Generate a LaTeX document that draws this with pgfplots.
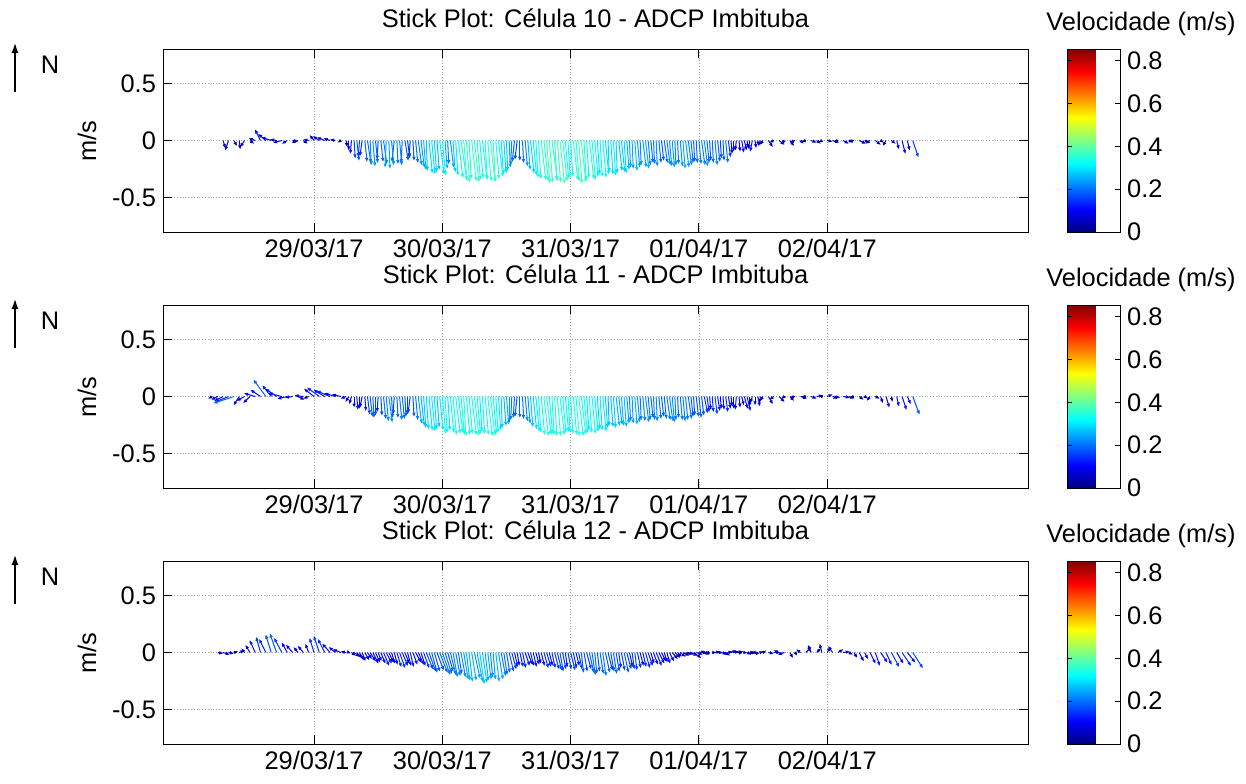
\documentclass[border=0pt]{standalone}
\usepackage{fontspec}
\setmainfont{Liberation Sans}
\usepackage{pgfplots}
\pgfplotsset{compat=1.18}
\usepackage{pgfplotstable}
\usetikzlibrary{arrows.meta}
\newcommand\fs{\fontsize{12.7}{15}\selectfont}

% hour (0 = 28/03/17 00:00), u (east, m/s), v (north, m/s)
\pgfplotstableread{
h u v
7 0.02 -0.07
8 -0.03 -0.09
9 0.03 -0.05
10 0.01 -0.08
11 -0.04 -0.06
12 0.04 -0.03
13 -0.06 0.02
14 -0.05 0.10
15 -0.07 0.06
16 -0.09 0.03
17 -0.06 0.01
18 -0.08 -0.02
19 -0.05 -0.03
20 0.05 -0.01
21 -0.06 -0.02
22 0.04 -0.03
23 -0.05 0.01
24 -0.04 0.05
25 -0.06 0.04
26 -0.07 0.03
27 -0.06 0.02
28 -0.05 0.01
29 -0.03 -0.02
30 0.01 -0.06
31 -0.01 -0.12
32 0.02 -0.18
33 -0.02 -0.14
34 0.03 -0.20
35 0.02 -0.23
36 -0.01 -0.17
37 0.03 -0.21
38 0.01 -0.25
39 -0.02 -0.19
40 0.02 -0.22
41 0.03 -0.18
42 -0.01 -0.15
43 0.02 -0.20
44 0.03 -0.24
45 0.01 -0.27
46 0.03 -0.30
47 0.02 -0.26
48 0.03 -0.31
49 0.01 -0.21
50 0.02 -0.28
51 0.04 -0.33
52 0.03 -0.36
53 0.02 -0.34
54 0.04 -0.37
55 0.03 -0.33
56 0.02 -0.35
57 0.04 -0.37
58 0.03 -0.34
59 0.02 -0.30
60 0.01 -0.27
61 -0.01 -0.22
62 -0.02 -0.17
63 0.01 -0.20
64 0.02 -0.26
65 0.03 -0.31
66 0.02 -0.34
67 0.04 -0.36
68 0.03 -0.37
69 0.02 -0.35
70 0.04 -0.38
71 0.03 -0.34
72 0.02 -0.32
73 0.03 -0.36
74 0.04 -0.37
75 0.02 -0.33
76 0.03 -0.35
77 0.02 -0.30
78 0.03 -0.33
79 0.01 -0.28
80 0.02 -0.31
81 0.03 -0.27
82 0.02 -0.29
83 0.01 -0.24
84 0.02 -0.27
85 0.01 -0.22
86 0.03 -0.25
87 0.02 -0.20
88 0.01 -0.23
89 0.02 -0.18
90 0.03 -0.22
91 0.02 -0.24
92 0.01 -0.21
93 0.02 -0.25
94 0.03 -0.22
95 0.01 -0.19
96 0.02 -0.21
97 0.03 -0.23
98 0.01 -0.18
99 0.02 -0.22
100 0.01 -0.16
101 0.02 -0.20
102 0.01 -0.12
103 -0.01 -0.09
104 0.02 -0.11
105 0.01 -0.07
106 -0.02 -0.10
107 0.01 -0.05
108 -0.03 -0.04
109 0.04 -0.06
110 -0.04 -0.02
111 0.05 -0.04
112 -0.03 -0.03
113 0.04 -0.05
114 -0.05 -0.02
115 0.03 -0.03
116 -0.04 -0.01
117 0.05 -0.02
118 0.04 -0.03
119 -0.03 -0.02
120 0.05 -0.01
121 0.06 -0.02
122 -0.04 -0.01
123 0.05 -0.03
124 0.04 -0.02
125 -0.05 -0.01
126 0.06 -0.03
127 0.04 -0.02
128 -0.04 -0.03
129 0.05 -0.04
130 0.03 -0.02
131 -0.03 -0.05
132 0.04 -0.03
133 0.02 -0.08
134 0.03 -0.12
135 0.02 -0.09
136 0.05 -0.15
30.5 0.00 -0.09
31.5 0.01 -0.16
32.5 -0.01 -0.15
33.5 0.02 -0.19
34.5 0.01 -0.22
35.5 0.02 -0.20
36.5 0.02 -0.19
37.5 -0.01 -0.24
38.5 0.02 -0.22
39.5 0.01 -0.21
40.5 -0.01 -0.20
41.5 0.02 -0.16
42.5 0.01 -0.18
43.5 0.03 -0.22
44.5 0.02 -0.26
45.5 0.03 -0.29
46.5 0.02 -0.28
47.5 0.04 -0.30
48.5 0.02 -0.25
49.5 0.03 -0.24
50.5 0.02 -0.31
51.5 0.05 -0.35
52.5 0.03 -0.37
53.5 0.04 -0.36
54.5 0.03 -0.35
55.5 0.04 -0.34
56.5 0.03 -0.36
57.5 0.02 -0.36
58.5 0.04 -0.32
59.5 0.02 -0.29
60.5 0.01 -0.24
61.5 -0.02 -0.19
62.5 0.00 -0.18
63.5 0.02 -0.23
64.5 0.03 -0.29
65.5 0.02 -0.33
66.5 0.04 -0.35
67.5 0.03 -0.38
68.5 0.05 -0.36
69.5 0.03 -0.37
70.5 0.04 -0.36
71.5 0.02 -0.33
72.5 0.04 -0.35
73.5 0.03 -0.38
74.5 0.02 -0.35
75.5 0.04 -0.34
76.5 0.03 -0.32
77.5 0.02 -0.32
78.5 0.03 -0.30
79.5 0.02 -0.30
80.5 0.01 -0.29
81.5 0.03 -0.28
82.5 0.02 -0.26
83.5 0.01 -0.25
84.5 0.02 -0.24
85.5 0.03 -0.24
86.5 0.02 -0.22
87.5 0.01 -0.21
88.5 0.02 -0.20
89.5 0.03 -0.20
90.5 0.02 -0.23
91.5 0.01 -0.22
92.5 0.02 -0.23
93.5 0.03 -0.24
94.5 0.02 -0.20
95.5 0.01 -0.20
96.5 0.03 -0.22
97.5 0.02 -0.20
98.5 0.01 -0.20
99.5 0.02 -0.19
100.5 0.01 -0.18
101.5 0.02 -0.15
102.5 0.00 -0.10
103.5 0.01 -0.10
104.5 0.02 -0.09
105.5 -0.01 -0.08
106.5 0.01 -0.07
107.5 -0.02 -0.05
}\dataA

\pgfplotstableread{
h u v
5 -0.04 -0.02
6 -0.06 -0.03
7 -0.08 -0.04
8 -0.12 -0.05
9 -0.18 -0.06
10 -0.05 -0.08
11 -0.07 -0.04
12 -0.06 -0.06
13 -0.10 0.03
14 -0.09 0.06
15 -0.11 0.15
16 -0.08 0.10
17 -0.10 0.07
18 -0.12 0.03
19 -0.09 -0.02
20 -0.07 -0.01
21 0.06 -0.03
22 -0.08 0.01
23 -0.05 -0.02
24 -0.09 0.07
25 -0.11 0.08
26 -0.10 0.06
27 -0.12 0.05
28 -0.10 0.03
29 -0.08 0.02
30 -0.05 -0.02
31 -0.02 -0.07
32 0.01 -0.12
33 -0.02 -0.10
34 0.02 -0.16
35 0.01 -0.19
36 -0.01 -0.14
37 0.02 -0.20
38 0.03 -0.23
39 -0.01 -0.16
40 0.02 -0.21
41 0.01 -0.18
42 -0.02 -0.15
43 0.02 -0.21
44 0.03 -0.26
45 0.02 -0.29
46 0.03 -0.31
47 0.02 -0.27
48 0.03 -0.33
49 0.02 -0.30
50 0.03 -0.34
51 0.04 -0.32
52 0.02 -0.35
53 0.03 -0.33
54 0.04 -0.35
55 0.02 -0.31
56 0.03 -0.34
57 0.04 -0.35
58 0.02 -0.32
59 0.01 -0.28
60 0.02 -0.25
61 -0.01 -0.21
62 -0.02 -0.18
63 0.01 -0.20
64 0.02 -0.24
65 0.03 -0.29
66 0.02 -0.32
67 0.04 -0.35
68 0.03 -0.33
69 0.02 -0.35
70 0.04 -0.34
71 0.03 -0.31
72 0.02 -0.33
73 0.03 -0.35
74 0.04 -0.34
75 0.02 -0.30
76 0.03 -0.33
77 0.02 -0.29
78 0.03 -0.31
79 0.01 -0.26
80 0.02 -0.28
81 0.03 -0.25
82 0.02 -0.27
83 0.01 -0.22
84 0.02 -0.25
85 0.01 -0.21
86 0.03 -0.23
87 0.02 -0.19
88 0.01 -0.22
89 0.02 -0.18
90 0.03 -0.21
91 0.02 -0.23
92 0.01 -0.19
93 0.02 -0.22
94 0.03 -0.20
95 0.01 -0.17
96 0.02 -0.19
97 0.03 -0.15
98 0.01 -0.12
99 0.02 -0.16
100 0.01 -0.11
101 0.02 -0.14
102 0.01 -0.09
103 -0.01 -0.12
104 0.02 -0.08
105 0.03 -0.13
106 -0.02 -0.06
107 0.02 -0.09
108 -0.03 -0.04
109 0.04 -0.07
110 -0.04 -0.03
111 0.05 -0.05
112 -0.03 -0.02
113 0.04 -0.04
114 -0.05 -0.01
115 0.06 -0.02
116 -0.04 0.00
117 0.05 -0.02
118 0.06 0.01
119 -0.03 0.01
120 0.05 0.02
121 0.07 -0.01
122 -0.05 -0.02
123 0.06 -0.01
124 0.05 -0.02
125 -0.04 -0.01
126 0.04 -0.03
127 0.03 -0.02
128 -0.03 -0.04
129 0.04 -0.02
130 0.02 -0.06
131 0.03 -0.10
132 0.01 -0.05
133 0.02 -0.09
134 0.04 -0.12
135 0.03 -0.07
136 0.06 -0.16
30.5 -0.03 -0.05
31.5 0.00 -0.10
32.5 0.00 -0.11
33.5 0.01 -0.13
34.5 0.02 -0.18
35.5 0.00 -0.17
36.5 0.01 -0.17
37.5 0.02 -0.22
38.5 0.01 -0.19
39.5 0.01 -0.19
40.5 0.02 -0.20
41.5 0.00 -0.16
42.5 0.01 -0.18
43.5 0.03 -0.24
44.5 0.02 -0.28
45.5 0.03 -0.30
46.5 0.02 -0.29
47.5 0.03 -0.30
48.5 0.02 -0.32
49.5 0.03 -0.32
50.5 0.04 -0.33
51.5 0.03 -0.34
52.5 0.03 -0.34
53.5 0.04 -0.34
54.5 0.03 -0.33
55.5 0.02 -0.33
56.5 0.04 -0.35
57.5 0.03 -0.33
58.5 0.02 -0.30
59.5 0.02 -0.26
60.5 0.00 -0.23
61.5 -0.01 -0.19
62.5 0.00 -0.19
63.5 0.02 -0.22
64.5 0.02 -0.27
65.5 0.03 -0.31
66.5 0.03 -0.34
67.5 0.04 -0.34
68.5 0.02 -0.34
69.5 0.03 -0.35
70.5 0.03 -0.32
71.5 0.02 -0.32
72.5 0.03 -0.34
73.5 0.04 -0.35
74.5 0.03 -0.32
75.5 0.02 -0.32
76.5 0.03 -0.31
77.5 0.02 -0.30
78.5 0.02 -0.28
79.5 0.02 -0.27
80.5 0.03 -0.26
81.5 0.02 -0.26
82.5 0.02 -0.24
83.5 0.01 -0.24
84.5 0.02 -0.23
85.5 0.02 -0.22
86.5 0.02 -0.21
87.5 0.01 -0.21
88.5 0.02 -0.20
89.5 0.02 -0.20
90.5 0.03 -0.22
91.5 0.01 -0.21
92.5 0.02 -0.21
93.5 0.02 -0.21
94.5 0.02 -0.18
95.5 0.02 -0.18
96.5 0.02 -0.17
97.5 0.02 -0.14
98.5 0.01 -0.14
99.5 0.02 -0.13
100.5 0.01 -0.12
101.5 0.02 -0.11
102.5 0.00 -0.11
103.5 0.01 -0.10
104.5 0.03 -0.11
105.5 0.00 -0.09
106.5 0.00 -0.08
107.5 -0.01 -0.06
}\dataB

\pgfplotstableread{
h u v
6 0.05 -0.01
7 0.06 -0.02
8 0.05 -0.01
9 0.04 0.01
10 0.05 0.02
11 -0.03 0.04
12 -0.04 0.07
13 -0.05 0.11
14 -0.04 0.14
15 -0.06 0.12
16 -0.05 0.16
17 -0.06 0.17
18 -0.07 0.13
19 -0.05 0.09
20 -0.06 0.07
21 -0.04 0.05
22 -0.05 0.06
23 -0.03 0.08
24 -0.04 0.13
25 -0.05 0.15
26 -0.06 0.12
27 -0.07 0.08
28 -0.06 0.05
29 -0.07 0.03
30 -0.05 0.01
31 0.04 -0.03
32 0.05 -0.05
33 0.03 -0.08
34 0.04 -0.06
35 0.05 -0.10
36 0.03 -0.08
37 0.05 -0.12
38 0.04 -0.09
39 0.03 -0.11
40 0.05 -0.14
41 0.04 -0.10
42 0.03 -0.13
43 0.05 -0.09
44 0.04 -0.12
45 0.06 -0.15
46 0.05 -0.18
47 0.06 -0.16
48 0.07 -0.20
49 0.05 -0.17
50 0.04 -0.22
51 0.03 -0.19
52 0.04 -0.24
53 0.03 -0.26
54 0.05 -0.23
55 0.04 -0.28
56 0.03 -0.25
57 0.02 -0.22
58 0.03 -0.26
59 0.04 -0.21
60 0.03 -0.18
61 0.04 -0.15
62 0.02 -0.12
63 0.03 -0.14
64 0.04 -0.11
65 0.03 -0.13
66 0.02 -0.10
67 0.04 -0.14
68 0.03 -0.12
69 0.04 -0.15
70 0.03 -0.17
71 0.02 -0.13
72 0.04 -0.16
73 0.03 -0.12
74 0.02 -0.18
75 0.04 -0.15
76 0.03 -0.20
77 0.02 -0.17
78 0.03 -0.21
79 0.04 -0.16
80 0.03 -0.19
81 0.02 -0.14
82 0.04 -0.18
83 0.03 -0.13
84 0.02 -0.16
85 0.03 -0.12
86 0.04 -0.14
87 0.03 -0.10
88 0.05 -0.12
89 0.04 -0.08
90 0.03 -0.10
91 0.05 -0.06
92 0.04 -0.04
93 0.06 -0.03
94 0.05 -0.02
95 0.07 -0.05
96 0.06 0.01
97 0.05 -0.02
98 -0.04 -0.01
99 0.05 0.01
100 0.06 -0.01
101 0.04 -0.03
102 0.05 0.02
103 0.06 0.01
104 -0.03 0.02
105 0.04 -0.02
106 0.03 0.01
107 -0.02 -0.03
108 0.03 0.02
109 0.05 -0.01
110 0.06 0.00
111 -0.05 0.02
112 -0.06 -0.02
113 0.03 -0.05
114 0.02 -0.03
115 -0.04 0.03
116 0.05 0.05
117 -0.03 0.07
118 0.04 0.04
119 -0.02 0.08
120 0.03 0.05
121 -0.04 0.06
122 0.05 0.03
123 0.06 0.01
124 0.04 -0.02
125 0.03 -0.05
126 0.04 -0.08
127 0.03 -0.06
128 0.05 -0.10
129 0.04 -0.12
130 0.06 -0.09
131 0.05 -0.11
132 0.07 -0.13
133 0.06 -0.10
134 0.08 -0.12
135 0.07 -0.09
136 0.09 -0.14
30.5 0.02 -0.01
31.5 0.05 -0.04
32.5 0.04 -0.07
33.5 0.04 -0.07
34.5 0.05 -0.08
35.5 0.04 -0.09
36.5 0.04 -0.10
37.5 0.05 -0.10
38.5 0.03 -0.10
39.5 0.04 -0.13
40.5 0.05 -0.12
41.5 0.03 -0.12
42.5 0.04 -0.11
43.5 0.05 -0.11
44.5 0.05 -0.14
45.5 0.06 -0.17
46.5 0.05 -0.17
47.5 0.07 -0.18
48.5 0.06 -0.19
49.5 0.05 -0.20
50.5 0.04 -0.21
51.5 0.04 -0.22
52.5 0.03 -0.25
53.5 0.04 -0.25
54.5 0.05 -0.26
55.5 0.04 -0.27
56.5 0.03 -0.24
57.5 0.02 -0.24
58.5 0.04 -0.24
59.5 0.03 -0.20
60.5 0.04 -0.17
61.5 0.03 -0.13
62.5 0.03 -0.13
63.5 0.04 -0.12
64.5 0.03 -0.12
65.5 0.03 -0.11
66.5 0.03 -0.12
67.5 0.04 -0.13
68.5 0.03 -0.14
69.5 0.04 -0.16
70.5 0.03 -0.15
71.5 0.03 -0.15
72.5 0.03 -0.14
73.5 0.03 -0.15
74.5 0.03 -0.17
75.5 0.04 -0.18
76.5 0.02 -0.19
77.5 0.03 -0.19
78.5 0.04 -0.18
79.5 0.03 -0.17
80.5 0.03 -0.17
81.5 0.03 -0.16
82.5 0.04 -0.15
83.5 0.02 -0.15
84.5 0.03 -0.14
85.5 0.03 -0.13
86.5 0.04 -0.12
87.5 0.04 -0.11
88.5 0.05 -0.10
89.5 0.03 -0.09
90.5 0.04 -0.08
91.5 0.05 -0.05
92.5 0.05 -0.04
93.5 0.05 -0.02
94.5 0.06 -0.03
95.5 0.06 -0.02
96.5 0.05 0.00
97.5 -0.03 -0.01
98.5 0.04 0.00
99.5 0.05 0.00
100.5 0.05 -0.02
101.5 0.04 0.01
102.5 0.05 0.01
103.5 -0.02 0.01
104.5 0.03 0.00
105.5 0.04 -0.01
106.5 -0.03 -0.01
107.5 0.03 0.01
}\dataC

\pgfplotsset{
  stickaxis/.style={
    scale only axis, width=432.5pt, height=91.5pt, anchor=south west,
    xmin=-4.25, xmax=157.56, ymin=-0.8, ymax=0.8,
    xtick={24,48,72,96,120},
    xticklabels={29/03/17,30/03/17,31/03/17,01/04/17,02/04/17},
    ytick={-0.5,0,0.5}, yticklabels={-0.5,0,0.5},
    tick align=inside, major tick length=4.5pt,
    xtick pos=both, ytick pos=both,
    grid=major, grid style={densely dotted, black!35, line width=0.4pt},
    axis line style={line width=0.5pt},
    tick style={line width=0.5pt, black},
    ticklabel style={font=\fs},
    colormap/jet, point meta min=0, point meta max=0.855,
    colorbar,
    colorbar style={
      at={(parent axis.north east)}, anchor=north west, xshift=11pt,
      scale only axis, width=26.5pt, height=91.5pt,
      ytick={0,0.2,0.4,0.6,0.8}, yticklabels={0,0.2,0.4,0.6,0.8},
      yticklabel pos=right, ytick pos=both,
      tick align=inside, major tick length=2.5pt,
      tick style={line width=0.4pt, black},
      yticklabel style={font=\fs},
      axis line style={line width=0.5pt},
    },
  },
  stick/.style={
    mark=none, line width=0.5pt,
    -{Latex[length=2.2pt,width=1.8pt]},
    point meta={sqrt((\thisrow{u})^2+(\thisrow{v})^2)},
    quiver={u=\thisrow{u}*21.5, v=\thisrow{v}, colored=mapped color},
  },
}

\begin{document}
\begin{tikzpicture}
\path[use as bounding box] (0pt,0pt) rectangle (623pt,-391.5pt);

% Panel 1
\begin{axis}[stickaxis, at={(81.5pt,-116pt)}]
\addplot[stick] table[x=h, y expr=0] {\dataA};
\end{axis}
% Panel 2
\begin{axis}[stickaxis, at={(81.5pt,-244pt)}]
\addplot[stick] table[x=h, y expr=0] {\dataB};
\end{axis}
% Panel 3
\begin{axis}[stickaxis, at={(81.5pt,-372pt)}]
\addplot[stick] table[x=h, y expr=0] {\dataC};
\end{axis}

\foreach \k/\cel in {0/10,1/11,2/12}{
  \begin{scope}[yshift=-128*\k pt]
    \node[anchor=base, font=\fs, inner sep=0pt] at (297.75pt,-13.5pt) {Stick Plot: Célula \cel{} - ADCP Imbituba};
    \node[anchor=base, font=\fs, inner sep=0pt] at (570.5pt,-15pt) {Velocidade (m/s)};
    \node[rotate=90, font=\fs, inner sep=0pt] at (43.5pt,-70.5pt) {m/s};
    \draw[-{Latex[length=5pt,width=3.5pt]}, line width=0.6pt] (7.5pt,-46pt) -- (7.5pt,-21.5pt);
    \node[anchor=base, font=\fs, inner sep=0pt] at (25pt,-36.5pt) {N};
  \end{scope}
}
\end{tikzpicture}
\end{document}
